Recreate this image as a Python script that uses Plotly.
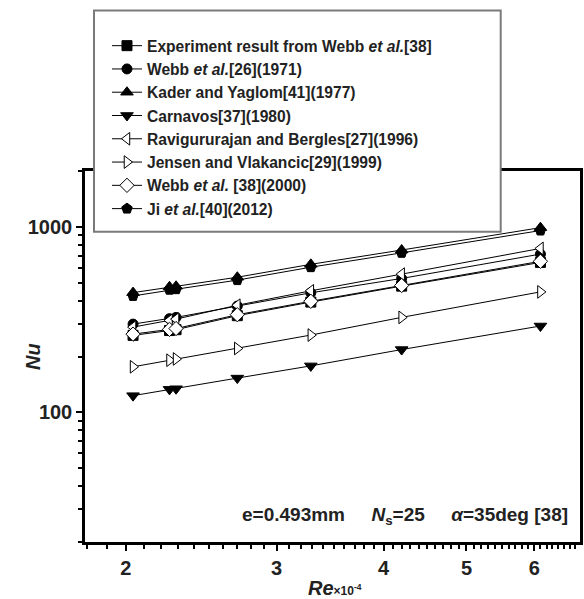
import plotly.graph_objects as go

# ---------------- data ----------------
re_vals = [2.04, 2.25, 2.29, 2.70, 3.29, 4.20, 6.10]          # Re x 10^-4

nu_experiment = [260, 276, 279, 332, 393, 479, 643]
nu_webb1971 = [299, 320, 325, 374, 441, 527, 713]
nu_kader = [442, 475, 478, 535, 628, 750, 990]
nu_carnavos = [123, 133, 134, 153, 178, 218, 292]
nu_ravi = [288, 313, 318, 378, 452, 556, 765]
nu_jensen = [176, 191, 194, 221, 261, 325, 446]
nu_webb2000 = [264, 280, 283, 336, 397, 483, 652]
nu_ji = [424, 458, 461, 516, 606, 724, 955]

series_names = [
    "Experiment result from Webb <i>et al.</i>[38]",
    "Webb <i>et al.</i>[26](1971)",
    "Kader and Yaglom[41](1977)",
    "Carnavos[37](1980)",
    "Ravigururajan and Bergles[27](1996)",
    "Jensen and Vlakancic[29](1999)",
    "Webb <i>et al.</i> [38](2000)",
    "Ji <i>et al.</i>[40](2012)",
]
series_values = [nu_experiment, nu_webb1971, nu_kader, nu_carnavos,
                 nu_ravi, nu_jensen, nu_webb2000, nu_ji]

x_tick_vals = [2, 3, 4, 5, 6]
x_tick_text = ["2", "3", "4", "5", "6"]
x_minor_vals = [1.8, 1.9, 2.1, 2.2, 2.3, 2.4, 2.5, 2.6, 2.7, 2.8, 2.9,
                3.1, 3.2, 3.3, 3.4, 3.5, 3.6, 3.7, 3.8, 3.9,
                4.1, 4.2, 4.3, 4.4, 4.5, 4.6, 4.7, 4.8, 4.9,
                5.1, 5.2, 5.3, 5.4, 5.5, 5.6, 5.7, 5.8, 5.9,
                6.1, 6.2, 6.3, 6.4, 6.5, 6.6, 6.7]
y_tick_vals = [100, 1000]
y_tick_text = ["100", "1000"]
y_minor_vals = [20, 30, 40, 50, 60, 70, 80, 90,
                200, 300, 400, 500, 600, 700, 800, 900, 2000]

# ---------------- styles ----------------
symbols = ["square", "circle", "triangle-up", "triangle-down",
           "triangle-left", "triangle-right", "diamond", "pentagon"]
fills = ["black", "black", "black", "black", "white", "white", "white", "black"]
sizes = [10, 10, 11, 11, 11, 11, 11, 11]

FONT = "Arial, Liberation Sans, sans-serif"
TXT = "#222"

fig = go.Figure()
for name, vals, sym, fc, sz in zip(series_names, series_values, symbols, fills, sizes):
    fig.add_trace(go.Scatter(
        x=re_vals, y=vals, name=name, mode="lines+markers",
        line=dict(color="black", width=1),
        marker=dict(symbol=sym, size=sz, color=fc,
                    line=dict(color="black", width=1)),
    ))

# legend box (drawn as a shape so its size matches the reference)
fig.add_shape(type="rect", xref="paper", yref="paper",
              x0=0.0182, x1=0.8398, y0=0.8364, y1=1.4326,
              fillcolor="white", line=dict(color="#7a7a7a", width=2),
              layer="above")

sp = "\u00a0" * 5
fig.add_annotation(
    xref="paper", yref="paper", x=0.98, y=0.07, xanchor="right", yanchor="middle",
    text="e=0.493mm" + sp + "<i>N</i><sub>s</sub>=25" + sp + "<i>α</i>=35deg [38]",
    showarrow=False, font=dict(family=FONT, size=19, color=TXT, weight="bold"),
)

# axis titles
fig.add_annotation(
    xref="paper", yref="paper", x=0.505, y=-0.124, xanchor="center", yanchor="middle",
    text="<i>Re</i><span style='font-size:12px'>×10<sup>-4</sup></span>",
    showarrow=False, font=dict(family=FONT, size=20, color=TXT, weight="bold"),
)
fig.add_annotation(
    xref="paper", yref="paper", x=-0.105, y=0.4987, xanchor="center", yanchor="middle",
    text="<i>Nu</i>", textangle=-90,
    showarrow=False, font=dict(family=FONT, size=20, color=TXT, weight="bold"),
)

axis_common = dict(
    type="log", showline=True, linewidth=2.5, linecolor="black", mirror=True,
    ticks="outside", ticklen=6, tickwidth=2, tickcolor="black",
    showgrid=False, zeroline=False,
    tickfont=dict(family=FONT, size=20, color=TXT, weight="bold"),
)

fig.update_xaxes(
    **axis_common,
    range=[0.25351, 0.83151],
    tickmode="array", tickvals=x_tick_vals, ticktext=x_tick_text,
    minor=dict(tickmode="array", tickvals=x_minor_vals, ticks="outside",
               ticklen=4, tickwidth=2, tickcolor="black", showgrid=False),
)
fig.update_yaxes(
    **axis_common,
    range=[1.30103, 3.30103],
    tickmode="array", tickvals=y_tick_vals, ticktext=y_tick_text,
    minor=dict(tickmode="array", tickvals=y_minor_vals, ticks="outside",
               ticklen=4, tickwidth=2, tickcolor="black", showgrid=False),
)

fig.update_layout(
    width=584, height=599,
    margin=dict(l=85, r=4, t=171, b=57, autoexpand=False),
    paper_bgcolor="white", plot_bgcolor="white",
    showlegend=True,
    legend=dict(
        x=0.0444, y=1.3827, xanchor="left", yanchor="top",
        bgcolor="rgba(0,0,0,0)", borderwidth=0,
        font=dict(family=FONT, size=15.6, color=TXT, weight="bold"),
        tracegroupgap=0, itemwidth=30,
    ),
)

fig.write_html(
    "out.html",
    config={"displayModeBar": False},
    post_script="document.body.style.margin='0';document.body.style.overflow='hidden';",
)
